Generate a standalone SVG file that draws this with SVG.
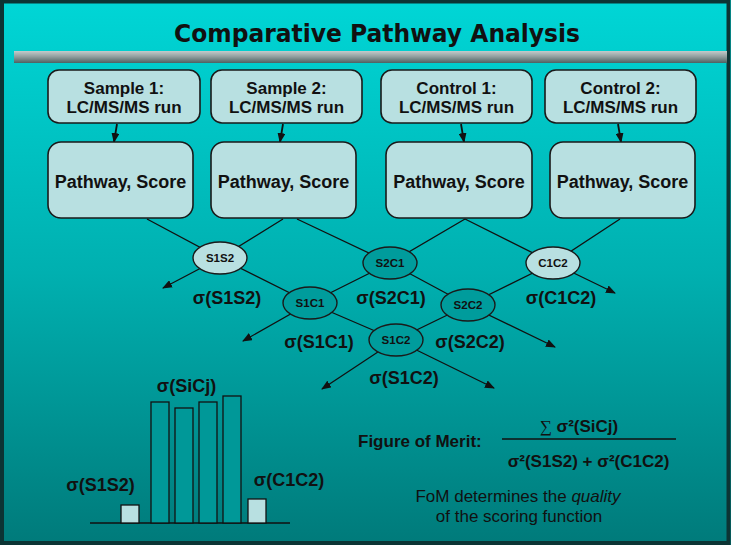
<svg xmlns="http://www.w3.org/2000/svg" width="731" height="545" viewBox="0 0 731 545">
<defs>
<linearGradient id="bg" x1="0" y1="0" x2="0" y2="1">
<stop offset="0" stop-color="#00d6d6"/>
<stop offset="0.5" stop-color="#00b0b0"/>
<stop offset="1" stop-color="#007a7a"/>
</linearGradient>
<linearGradient id="bar" x1="0" y1="0" x2="0" y2="1">
<stop offset="0" stop-color="#c4cccc"/>
<stop offset="0.5" stop-color="#8e9c9c"/>
<stop offset="1" stop-color="#4e6262"/>
</linearGradient>
<marker id="ah" markerWidth="10" markerHeight="8" refX="9" refY="4" orient="auto" markerUnits="userSpaceOnUse">
<path d="M0,0 L10,4 L0,8 z" fill="#111"/>
</marker>
<style>
.box{fill:#b8e0e1;stroke:#1a1a1a;stroke-width:1.6}
.el-l{fill:#b8e0e1;stroke:#1a1a1a;stroke-width:1.4}
.el-d{fill:#009c9c;stroke:#1a1a1a;stroke-width:1.4}
.bt{font-family:"Liberation Sans",Arial,sans-serif;font-weight:bold;font-size:17px;fill:#111;text-anchor:middle}
.pt{font-family:"Liberation Sans",Arial,sans-serif;font-weight:bold;font-size:18px;fill:#111;text-anchor:middle}
.et{font-family:"Liberation Sans",Arial,sans-serif;font-weight:bold;font-size:11.5px;fill:#111;text-anchor:middle}
.sl{font-family:"Liberation Sans",Arial,sans-serif;font-weight:bold;font-size:18px;fill:#111;text-anchor:middle}
.fm{font-family:"Liberation Sans",Arial,sans-serif;font-weight:bold;font-size:17px;fill:#111}
.nt{font-family:"Liberation Sans",Arial,sans-serif;font-size:17px;fill:#111;text-anchor:middle}
.ln{fill:none;stroke:#111;stroke-width:1.3}
.ar{fill:none;stroke:#111;stroke-width:1.8}
.bar-d{fill:#009898;stroke:#111;stroke-width:1.3}
.bar-l{fill:#b8e0e1;stroke:#111;stroke-width:1.3}
</style>
</defs>

<rect x="0" y="0" width="731" height="545" fill="url(#bg)"/>
<rect x="2" y="1.5" width="726.5" height="541.5" fill="none" stroke="#0c3434" stroke-width="4"/>

<text x="377" y="42" font-family="'DejaVu Sans',sans-serif" font-weight="bold" font-size="25" fill="#111" text-anchor="middle" textLength="406" lengthAdjust="spacingAndGlyphs">Comparative Pathway Analysis</text>
<rect x="14" y="51" width="713" height="12" fill="url(#bar)"/>

<g id="connectors">
<line class="ar" x1="117" y1="124" x2="114" y2="142" marker-end="url(#ah)"/>
<line class="ar" x1="283" y1="124" x2="280" y2="142" marker-end="url(#ah)"/>
<line class="ar" x1="461" y1="124" x2="464" y2="142" marker-end="url(#ah)"/>
<line class="ar" x1="618" y1="124" x2="621" y2="142" marker-end="url(#ah)"/>
<polyline class="ln" points="147,219 220,258 310,303 396,340 494,388" marker-end="url(#ah)"/>
<polyline class="ln" points="283,219 220,258 163,288" marker-end="url(#ah)"/>
<polyline class="ln" points="297,219 390,263 468,305 555,347" marker-end="url(#ah)"/>
<polyline class="ln" points="465,219 390,263 310,303 243,341" marker-end="url(#ah)"/>
<polyline class="ln" points="465,219 553,263 615,293" marker-end="url(#ah)"/>
<polyline class="ln" points="620,219 553,263 468,305 396,340 322,389" marker-end="url(#ah)"/>
</g>

<g id="sample1">
<rect class="box" x="48" y="70" width="152" height="53" rx="11"/>
<text class="bt" x="124" y="94">Sample 1:</text>
<text class="bt" x="124" y="113">LC/MS/MS run</text>
</g>
<g id="sample2">
<rect class="box" x="211" y="70" width="151" height="53" rx="11"/>
<text class="bt" x="286.5" y="94">Sample 2:</text>
<text class="bt" x="286.5" y="113">LC/MS/MS run</text>
</g>
<g id="control1">
<rect class="box" x="381" y="70" width="151" height="53" rx="11"/>
<text class="bt" x="456.5" y="94">Control 1:</text>
<text class="bt" x="456.5" y="113">LC/MS/MS run</text>
</g>
<g id="control2">
<rect class="box" x="545" y="70" width="151" height="53" rx="11"/>
<text class="bt" x="620.5" y="94">Control 2:</text>
<text class="bt" x="620.5" y="113">LC/MS/MS run</text>
</g>

<g id="score1">
<rect class="box" x="48" y="142" width="145" height="76" rx="13"/>
<text class="pt" x="120.5" y="188">Pathway, Score</text>
</g>
<g id="score2">
<rect class="box" x="211" y="142" width="145" height="76" rx="13"/>
<text class="pt" x="283.5" y="188">Pathway, Score</text>
</g>
<g id="score3">
<rect class="box" x="386" y="142" width="146" height="76" rx="13"/>
<text class="pt" x="459" y="188">Pathway, Score</text>
</g>
<g id="score4">
<rect class="box" x="550" y="142" width="145" height="76" rx="13"/>
<text class="pt" x="622.5" y="188">Pathway, Score</text>
</g>

<g id="S1S2">
<ellipse class="el-l" cx="220" cy="258" rx="27" ry="16"/>
<text class="et" x="220" y="262">S1S2</text>
</g>
<g id="S2C1">
<ellipse class="el-d" cx="390" cy="263" rx="27" ry="16"/>
<text class="et" x="390" y="267">S2C1</text>
</g>
<g id="C1C2">
<ellipse class="el-l" cx="553" cy="263" rx="27" ry="16"/>
<text class="et" x="553" y="267">C1C2</text>
</g>
<g id="S1C1">
<ellipse class="el-d" cx="310" cy="303" rx="27" ry="16"/>
<text class="et" x="310" y="307">S1C1</text>
</g>
<g id="S2C2">
<ellipse class="el-d" cx="468" cy="305" rx="27" ry="16"/>
<text class="et" x="468" y="309">S2C2</text>
</g>
<g id="S1C2">
<ellipse class="el-d" cx="396" cy="340" rx="27" ry="16"/>
<text class="et" x="396" y="344">S1C2</text>
</g>

<g id="sigma-labels">
<text class="sl" x="227" y="304">σ(S1S2)</text>
<text class="sl" x="391" y="304">σ(S2C1)</text>
<text class="sl" x="561" y="304">σ(C1C2)</text>
<text class="sl" x="319" y="348">σ(S1C1)</text>
<text class="sl" x="470" y="348">σ(S2C2)</text>
<text class="sl" x="404" y="384">σ(S1C2)</text>
</g>

<g id="chart">
<line x1="90" y1="523" x2="290" y2="523" stroke="#111" stroke-width="1.3"/>
<rect class="bar-l" x="121" y="505" width="18" height="18"/>
<rect class="bar-d" x="151" y="402" width="18" height="121"/>
<rect class="bar-d" x="175" y="408" width="18" height="115"/>
<rect class="bar-d" x="199" y="402" width="18" height="121"/>
<rect class="bar-d" x="223" y="396" width="18" height="127"/>
<rect class="bar-l" x="248" y="499" width="18" height="24"/>
<text class="sl" x="186.5" y="392">σ(SiCj)</text>
<text class="sl" x="100.5" y="491">σ(S1S2)</text>
<text class="sl" x="289" y="486">σ(C1C2)</text>
</g>

<g id="fom">
<text class="fm" x="358" y="447">Figure of Merit:</text>
<line x1="502" y1="439" x2="676" y2="439" stroke="#111" stroke-width="1.5"/>
<text class="fm" x="579" y="432" text-anchor="middle"><tspan font-family="'Liberation Serif',serif" font-weight="normal">∑</tspan> σ²(SiCj)</text>
<text class="fm" x="588.5" y="467" text-anchor="middle">σ²(S1S2) + σ²(C1C2)</text>
<text class="nt" x="518" y="502">FoM determines the <tspan font-style="italic">quality</tspan></text>
<text class="nt" x="519" y="522">of the scoring function</text>
</g>
</svg>
